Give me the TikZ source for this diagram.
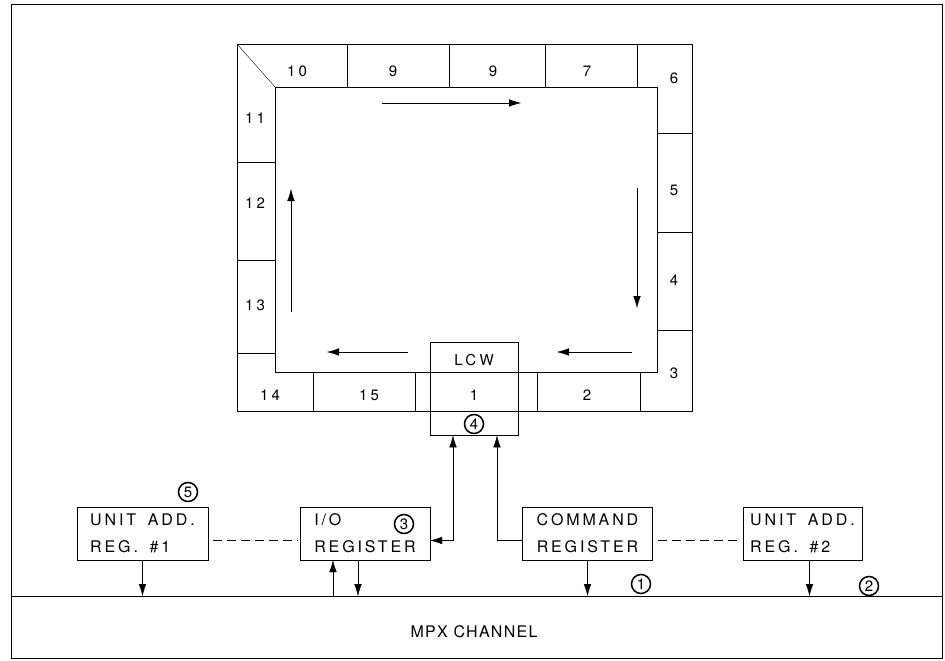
\documentclass[tikz,border=0pt]{standalone}
\usepackage{fontspec}
\newfontfamily\labfont[LetterSpace=18,WordSpace=1.6]{TeX Gyre Heros}
\newfontfamily\numfont[LetterSpace=22]{TeX Gyre Heros}
\newfontfamily\chanfont[LetterSpace=8]{TeX Gyre Heros}
\usetikzlibrary{arrows.meta}
\tikzset{x=1pt,y=-1pt,line width=1.3pt,>={Latex[length=12pt,width=7.5pt]},
reg/.style={draw,rectangle,minimum width=130pt,minimum height=53pt,align=left,inner sep=5pt,font=\labfont\fontsize{16}{27}\selectfont},
num/.style={inner sep=1pt,font=\numfont\fontsize{15}{17}\selectfont},
circnum/.style={draw,circle,minimum size=19pt,inner sep=0pt,line width=1.5pt,font=\chanfont\fontsize{15}{17}\selectfont},
link/.style={dash pattern=on 9pt off 5pt,shorten <=5pt,shorten >=2pt}}

\begin{document}
\begin{tikzpicture}
\useasboundingbox (0,0) rectangle (945,661);
\draw (11,4) rectangle (942,658);
\coordinate (busL) at (11,596);\coordinate (busR) at (942,596);
\draw (busL)--(busR);
\node[font=\chanfont\fontsize{16}{18}\selectfont] (mpx) at (474,632) {MPX CHANNEL};
% ring of control words
\draw (237,44) rectangle (692,411);
\draw (275,87) rectangle (657,372);
\draw (237,44)--(275,87);
\foreach \x in {347,449,545,637} \draw (\x,44)--(\x,87);
\foreach \y in {133,232,330} \draw (657,\y)--(692,\y);
\foreach \x in {313,415,537,640} \draw (\x,372)--(\x,411);
\foreach \y in {162,260,353} \draw (237,\y)--(275,\y);
\foreach \x/\t [count=\i] in {297/10,393/9,493/9,587/7} \node[num] (top\i) at (\x,71) {\t};
\foreach \y/\t [count=\i] in {78/6,190/5,280/4,373/3} \node[num] (rt\i) at (674,\y) {\t};
\foreach \y/\t [count=\i] in {118/11,203/12,305/13} \node[num] (lt\i) at (255,\y) {\t};
\foreach \x/\t [count=\i] in {270/14,369/15,474/1,587/2} \node[num] (bt\i) at (\x,395) {\t};
\draw[->] (382,103)--(521,103);
\draw[->] (637,188)--(637,308);
\draw[->] (632,352)--(557,352);
\draw[->] (408,352)--(327,352);
\draw[->] (291,312)--(291,189);
\node[draw,minimum width=88pt,minimum height=93pt,anchor=north] (lcw) at (474,342) {};
\node[num] (lcwt) at (474,360) {LCW};
\node[circnum] (c4) at (474,424) {4};
% registers
\node[reg,minimum width=131pt] (ua1) at (142.5,533.5) {UNIT ADD.\\REG. \#1};
\node[reg] (io) at (365,533.5) {I/O\\REGISTER};
\node[reg,align=center] (cmd) at (587.5,533.5) {COMMAND\\REGISTER};
\node[reg,minimum width=119pt] (ua2) at (802.5,533.5) {UNIT ADD.\\REG. \#2};
\node[circnum] (c5) at (188,492) {5};
\node[circnum] (c3) at (404,524) {3};
\node[circnum] (c1) at (641,584) {1};
\node[circnum] (c2) at (869,586) {2};
\draw[link] ([yshift=-7pt]ua1.east)--([yshift=-7pt]io.west);
\draw[link] ([yshift=-7pt]cmd.east)--([yshift=-7pt]ua2.west);
\coordinate (iou) at ([xshift=-32pt]io.south);
\coordinate (iod) at ([xshift=-7pt]io.south);
\coordinate (ua2d) at ([xshift=7pt]ua2.south);
\coordinate (lcwa) at ([xshift=-21pt]lcw.south);
\coordinate (lcwb) at ([xshift=23pt]lcw.south);
\draw[->] (ua1.south)--(ua1.south |- busL);
\draw[->] (iou |- busL)--(iou);
\draw[->] (iod)--(iod |- busL);
\draw[->] (cmd.south)--(cmd.south |- busL);
\draw[->] (ua2d)--(ua2d |- busL);
\draw[<->] ([yshift=-7pt]io.east) -| (lcwa);
\draw[->] ([yshift=-7pt]cmd.west) -| (lcwb);
\end{tikzpicture}
\end{document}
